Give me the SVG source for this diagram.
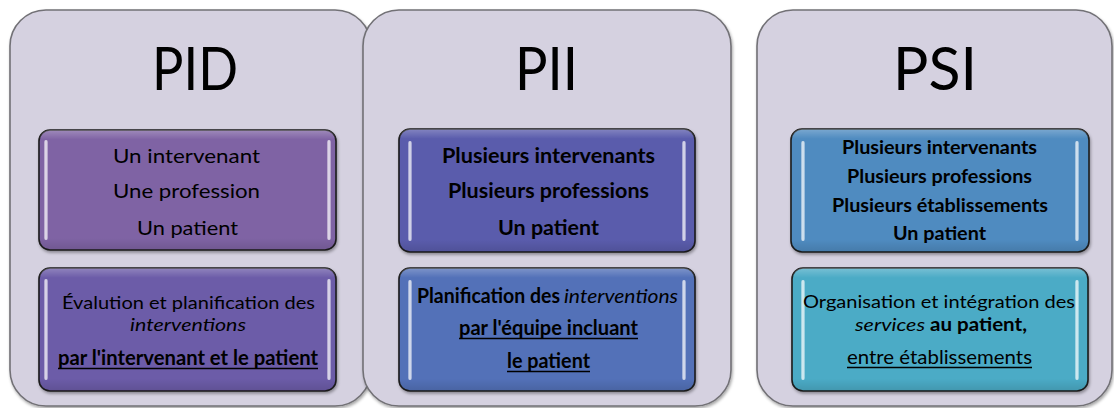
<svg xmlns="http://www.w3.org/2000/svg" width="1114" height="408" viewBox="0 0 1114 408">
<defs>
<style>
.panel{fill:#D5D1E0;stroke:#727176;stroke-width:1.6}
.box{stroke:#1c1c1c;stroke-width:1.6}
.title{font-family:Lato,"Liberation Sans",sans-serif;font-size:60px;fill:#000;text-anchor:start}
.t{font-family:Lato,"Liberation Sans",sans-serif;font-size:20px;fill:#000}
.s{font-size:18px}
.b{font-weight:bold}
.i{font-style:italic;font-weight:normal}
.ul{stroke:#000;stroke-width:1.5}
.hl{fill:url(#hl)}
</style>
<linearGradient id="hl" x1="0" y1="0" x2="1" y2="0">
<stop offset="0" stop-color="#fff" stop-opacity="0.35"/>
<stop offset="0.5" stop-color="#fff" stop-opacity="0.85"/>
<stop offset="1" stop-color="#fff" stop-opacity="0.3"/>
</linearGradient>
<linearGradient id="gloss" x1="0" y1="0" x2="0" y2="1">
<stop offset="0" stop-color="#fff" stop-opacity="0.25"/>
<stop offset="0.08" stop-color="#fff" stop-opacity="0"/>
<stop offset="0.9" stop-color="#000" stop-opacity="0"/>
<stop offset="1" stop-color="#000" stop-opacity="0.12"/>
</linearGradient>
<filter id="sh" x="-5%" y="-5%" width="110%" height="115%">
<feDropShadow dx="1" dy="2" stdDeviation="1.5" flood-color="#000" flood-opacity="0.35"/>
</filter>
</defs>

<g id="panel-pid">
<rect class="panel" x="10" y="10" width="361" height="396" rx="36" ry="36" filter="url(#sh)"/>
<text class="title" x="152" y="90" textLength="86" lengthAdjust="spacingAndGlyphs">PID</text>
</g>
<g id="panel-pii">
<rect class="panel" x="363" y="10" width="368" height="396" rx="36" ry="36" filter="url(#sh)"/>
<text class="title" x="515" y="90" textLength="63" lengthAdjust="spacingAndGlyphs">PII</text>
</g>
<g id="panel-psi">
<rect class="panel" x="757" y="10" width="355" height="396" rx="36" ry="36" filter="url(#sh)"/>
<text class="title" x="893" y="90" textLength="84" lengthAdjust="spacingAndGlyphs">PSI</text>
</g>

<g id="pid-box1">
<rect class="box" x="39" y="130" width="297" height="120" rx="11" fill="#7F64A4" filter="url(#sh)"/>
<rect x="39" y="130" width="297" height="120" rx="11" fill="url(#gloss)"/>
<rect class="hl" x="44" y="140" width="4" height="100" rx="2"/>
<rect class="hl" x="327" y="140" width="4" height="100" rx="2"/>
<text class="t" x="113" y="163" textLength="147" lengthAdjust="spacingAndGlyphs">Un intervenant</text>
<text class="t" x="113" y="198" textLength="147" lengthAdjust="spacingAndGlyphs">Une profession</text>
<text class="t" x="137" y="235" textLength="101" lengthAdjust="spacingAndGlyphs">Un patient</text>
</g>
<g id="pid-box2">
<rect class="box" x="39" y="268" width="297" height="123" rx="11" fill="#6C5CA8" filter="url(#sh)"/>
<rect x="39" y="268" width="297" height="123" rx="11" fill="url(#gloss)"/>
<rect class="hl" x="44" y="279" width="4" height="101" rx="2"/>
<rect class="hl" x="327" y="279" width="4" height="101" rx="2"/>
<text class="t s" x="62" y="309" textLength="253" lengthAdjust="spacingAndGlyphs">Évalution et planification des</text>
<text class="t s i" x="130" y="331" textLength="116" lengthAdjust="spacingAndGlyphs">interventions</text>
<text class="t b" x="58" y="365" textLength="260" lengthAdjust="spacingAndGlyphs">par l'intervenant et  le patient</text>
<line class="ul" x1="58" y1="368.5" x2="318" y2="368.5"/>
</g>

<g id="pii-box1">
<rect class="box" x="399" y="129" width="296" height="123" rx="11" fill="#5A5CAC" filter="url(#sh)"/>
<rect x="399" y="129" width="296" height="123" rx="11" fill="url(#gloss)"/>
<rect class="hl" x="408" y="141" width="4" height="100" rx="2"/>
<rect class="hl" x="682" y="141" width="4" height="100" rx="2"/>
<text class="t b" x="442" y="163" textLength="213" lengthAdjust="spacingAndGlyphs">Plusieurs intervenants</text>
<text class="t b" x="448" y="198" textLength="201" lengthAdjust="spacingAndGlyphs">Plusieurs professions</text>
<text class="t b" x="498" y="235" textLength="101" lengthAdjust="spacingAndGlyphs">Un patient</text>
</g>
<g id="pii-box2">
<rect class="box" x="399" y="268" width="296" height="123" rx="11" fill="#5271B8" filter="url(#sh)"/>
<rect x="399" y="268" width="296" height="123" rx="11" fill="url(#gloss)"/>
<rect class="hl" x="408" y="280" width="4" height="100" rx="2"/>
<rect class="hl" x="682" y="280" width="4" height="100" rx="2"/>
<text class="t b" x="417" y="303" textLength="143" lengthAdjust="spacingAndGlyphs">Planification des</text>
<text class="t i" x="564" y="303" textLength="114" lengthAdjust="spacingAndGlyphs">interventions</text>
<text class="t b" x="459" y="335" textLength="179" lengthAdjust="spacingAndGlyphs">par l'équipe incluant</text>
<line class="ul" x1="459" y1="338.5" x2="638" y2="338.5"/>
<text class="t b" x="507" y="368" textLength="83" lengthAdjust="spacingAndGlyphs">le patient</text>
<line class="ul" x1="507" y1="371.5" x2="590" y2="371.5"/>
</g>

<g id="psi-box1">
<rect class="box" x="791" y="129" width="298" height="123" rx="11" fill="#4F8BC0" filter="url(#sh)"/>
<rect x="791" y="129" width="298" height="123" rx="11" fill="url(#gloss)"/>
<rect class="hl" x="801" y="141" width="4" height="100" rx="2"/>
<rect class="hl" x="1075" y="141" width="4" height="100" rx="2"/>
<text class="t s b" x="842" y="154" textLength="195" lengthAdjust="spacingAndGlyphs">Plusieurs intervenants</text>
<text class="t s b" x="847" y="183" textLength="185" lengthAdjust="spacingAndGlyphs">Plusieurs professions</text>
<text class="t s b" x="832" y="212" textLength="216" lengthAdjust="spacingAndGlyphs">Plusieurs établissements</text>
<text class="t s b" x="893" y="240" textLength="93" lengthAdjust="spacingAndGlyphs">Un patient</text>
</g>
<g id="psi-box2">
<rect class="box" x="792" y="268" width="296" height="123" rx="11" fill="#4BABC6" filter="url(#sh)"/>
<rect x="792" y="268" width="296" height="123" rx="11" fill="url(#gloss)"/>
<rect class="hl" x="801" y="280" width="4" height="100" rx="2"/>
<rect class="hl" x="1075" y="280" width="4" height="100" rx="2"/>
<text class="t s" x="803" y="308" textLength="272" lengthAdjust="spacingAndGlyphs">Organisation et intégration des</text>
<text class="t s i" x="855" y="331" textLength="70" lengthAdjust="spacingAndGlyphs">services</text>
<text class="t s b" x="930" y="331" textLength="97" lengthAdjust="spacingAndGlyphs">au patient,</text>
<text class="t" x="847" y="364" textLength="185" lengthAdjust="spacingAndGlyphs">entre établissements</text>
<line class="ul" x1="847" y1="367.5" x2="1032" y2="367.5"/>
</g>

<g id="connectors"></g>
</svg>
